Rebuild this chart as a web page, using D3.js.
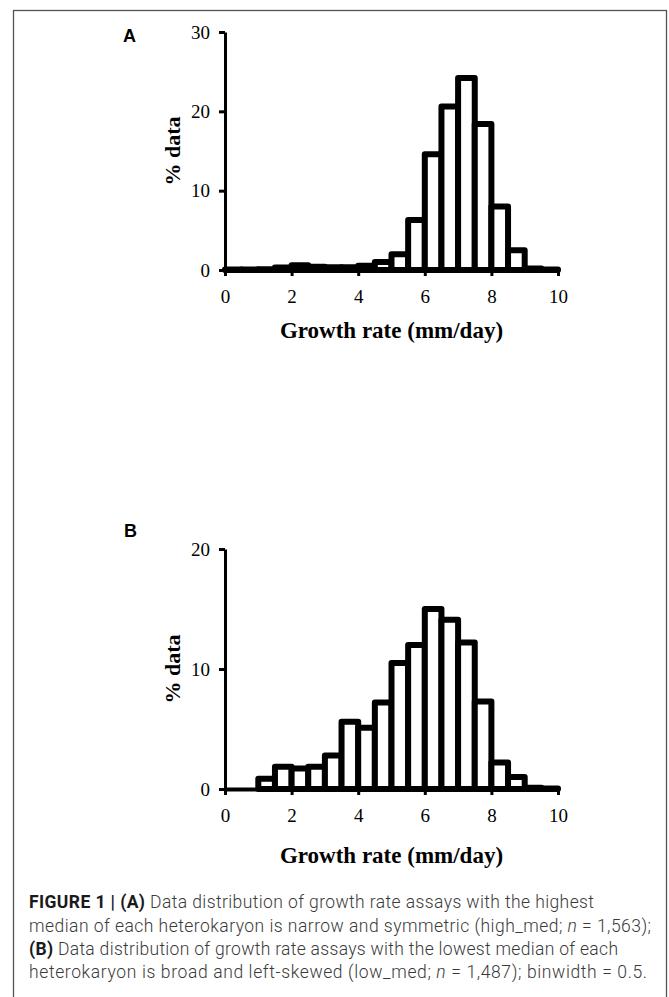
<!DOCTYPE html>
<html>
<head>
<meta charset="utf-8">
<script src="https://cdn.jsdelivr.net/npm/d3@7"></script>
<style>
  body { margin: 0; background: #fff; }
</style>
</head>
<body>
<div id="figure"></div>
<script>
// histogram bins (mm/day), binwidth = 0.5
var binStarts = [0, 0.5, 1, 1.5, 2, 2.5, 3, 3.5, 4, 4.5, 5, 5.5, 6, 6.5, 7, 7.5, 8, 8.5, 9, 9.5];
var binWidth = 0.5;

// % data per bin
var highMed = [0.05, 0.05, 0.1, 0.3, 0.6, 0.4, 0.35, 0.35, 0.55, 1.0, 2.0, 6.3, 14.6, 20.6, 24.2, 18.4, 8.0, 2.5, 0.2, 0.05];
var lowMed  = [0, 0, 0.85, 1.85, 1.7, 1.85, 2.8, 5.6, 5.1, 7.2, 10.5, 12.0, 15.0, 14.1, 12.2, 7.3, 2.2, 1.0, 0.1, 0.05];

// tick labels
var xTicks = [0, 2, 4, 6, 8, 10];
var yTicksA = [0, 10, 20, 30];
var yTicksB = [0, 10, 20];

var svg = d3.select("#figure")
    .append("svg")
    .attr("width", 669)
    .attr("height", 997);

// figure frame
svg.append("rect")
    .attr("x", 13.5)
    .attr("y", 10.5)
    .attr("width", 653)
    .attr("height", 1000)
    .attr("fill", "none")
    .attr("stroke", "#555")
    .attr("stroke-width", 1.3);

function drawPanel(p) {
    var x = d3.scaleLinear().domain([0, 10]).range([225, 558]);
    var y = d3.scaleLinear().domain([0, p.yMax]).range([p.bottom, p.top]);
    var g = svg.append("g");

    // bars
    g.selectAll("rect.bar")
        .data(p.data)
        .enter()
        .append("rect")
        .attr("class", "bar")
        .attr("x", function(d, i) { return x(binStarts[i]); })
        .attr("y", function(d) { return y(d); })
        .attr("width", x(binWidth) - x(0))
        .attr("height", function(d) { return y(0) - y(d); })
        .attr("fill", "#fff")
        .attr("stroke", "#000")
        .attr("stroke-width", 6)
        .attr("stroke-linejoin", "round");

    // x axis
    var xAxis = g.append("g")
        .attr("transform", "translate(0," + p.bottom + ")")
        .call(d3.axisBottom(x).tickValues(xTicks).tickSize(6).tickSizeOuter(0).tickPadding(14));
    xAxis.select(".domain").attr("stroke-width", 4);
    xAxis.selectAll(".tick line").attr("stroke-width", 3);
    xAxis.selectAll("text")
        .attr("font-family", "'Liberation Serif', 'Times New Roman', serif")
        .attr("font-size", 19)
        .attr("fill", "#000");

    // y axis
    var yAxis = g.append("g")
        .attr("transform", "translate(225,0)")
        .call(d3.axisLeft(y).tickValues(p.yTicks).tickSize(6).tickSizeOuter(0).tickPadding(9));
    yAxis.select(".domain").attr("stroke-width", 3);
    yAxis.selectAll(".tick line").attr("stroke-width", 3);
    yAxis.selectAll("text")
        .attr("font-family", "'Liberation Serif', 'Times New Roman', serif")
        .attr("font-size", 19)
        .attr("fill", "#000");

    // axis titles
    g.append("text")
        .attr("x", 391.5)
        .attr("y", p.xTitleY)
        .attr("text-anchor", "middle")
        .attr("font-family", "'Liberation Serif', 'Times New Roman', serif")
        .attr("font-weight", "bold")
        .attr("font-size", 23)
        .text("Growth rate (mm/day)");

    g.append("text")
        .attr("transform", "translate(180," + ((p.top + p.bottom) / 2) + ") rotate(-90)")
        .attr("text-anchor", "middle")
        .attr("font-family", "'Liberation Serif', 'Times New Roman', serif")
        .attr("font-weight", "bold")
        .attr("font-size", 22)
        .text("% data");

    // panel letter
    g.append("text")
        .attr("x", p.letterX)
        .attr("y", p.letterY)
        .attr("font-family", "'Liberation Sans', Arial, sans-serif")
        .attr("font-weight", "bold")
        .attr("font-size", 18)
        .text(p.letter);
}

drawPanel({letter: "A", data: highMed, yMax: 30, yTicks: yTicksA, top: 32, bottom: 270,
    xTitleY: 338, letterX: 123, letterY: 42});
drawPanel({letter: "B", data: lowMed, yMax: 20, yTicks: yTicksB, top: 549, bottom: 789,
    xTitleY: 863, letterX: 124, letterY: 537});

// caption
var captionLines = [
    {y: 908, w: 565, parts: [["FIGURE 1 | (A)", "b"], [" Data distribution of growth rate assays with the highest", ""]]},
    {y: 931.5, w: 622, parts: [["median of each heterokaryon is narrow and symmetric (high_med; ", ""], ["n", "i"], [" = 1,563);", ""]]},
    {y: 955, w: 589, parts: [["(B)", "b"], [" Data distribution of growth rate assays with the lowest median of each", ""]]},
    {y: 978, w: 618, parts: [["heterokaryon is broad and left-skewed (low_med; ", ""], ["n", "i"], [" = 1,487); binwidth = 0.5.", ""]]}
];

captionLines.forEach(function(line) {
    var t = svg.append("text")
        .attr("x", 29)
        .attr("y", line.y)
        .attr("font-family", "Roboto, 'Liberation Sans', Arial, sans-serif")
        .attr("font-weight", 300)
        .attr("font-size", 17.5)
        .attr("fill", "#3a3a3a")
        .attr("textLength", line.w)
        .attr("lengthAdjust", "spacing");
    line.parts.forEach(function(part) {
        var s = t.append("tspan").text(part[0]);
        if (part[1] === "b") s.attr("font-weight", 700).attr("fill", "#1a1a1a");
        if (part[1] === "i") s.attr("font-style", "italic");
    });
});
</script>
</body>
</html>
